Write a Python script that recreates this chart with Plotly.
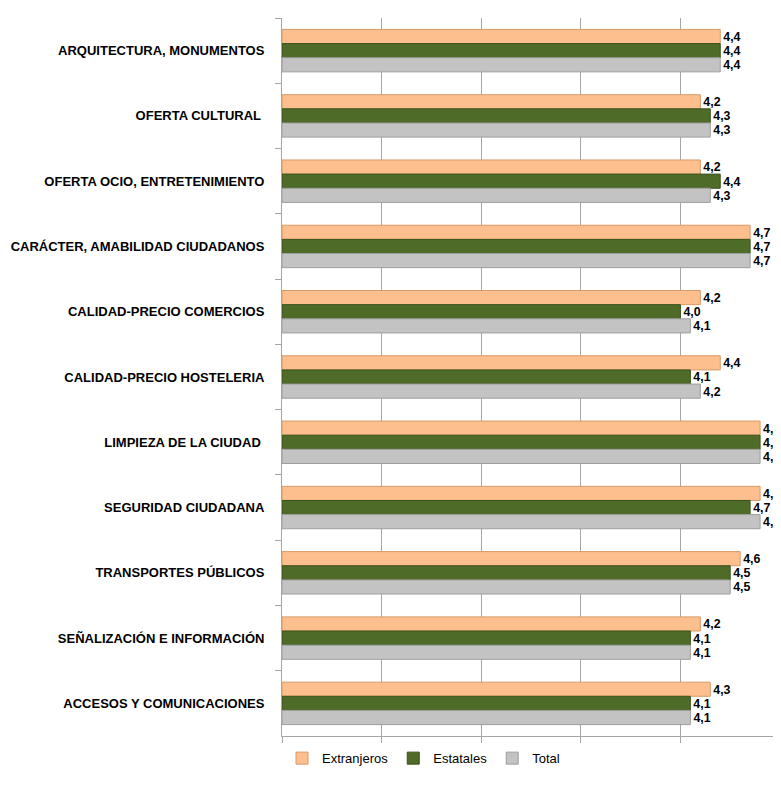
import plotly.graph_objects as go

categories = [
    "ARQUITECTURA, MONUMENTOS",
    "OFERTA CULTURAL ",
    "OFERTA OCIO, ENTRETENIMIENTO",
    "CARÁCTER, AMABILIDAD CIUDADANOS",
    "CALIDAD-PRECIO COMERCIOS",
    "CALIDAD-PRECIO HOSTELERIA",
    "LIMPIEZA DE LA CIUDAD ",
    "SEGURIDAD CIUDADANA",
    "TRANSPORTES PÚBLICOS",
    "SEÑALIZACIÓN E INFORMACIÓN",
    "ACCESOS Y COMUNICACIONES",
]
extranjeros = [4.4, 4.2, 4.2, 4.7, 4.2, 4.4, 4.8, 4.8, 4.6, 4.2, 4.3]
estatales = [4.4, 4.3, 4.4, 4.7, 4.0, 4.1, 4.8, 4.7, 4.5, 4.1, 4.1]
total = [4.4, 4.3, 4.3, 4.7, 4.1, 4.2, 4.8, 4.8, 4.5, 4.1, 4.1]

FONT = "Liberation Sans, Arial, sans-serif"

series = [
    ("Extranjeros", extranjeros, "#FCBF8D", "#D69A68"),
    ("Estatales", estatales, "#4F6B28", "#3A521C"),
    ("Total", total, "#C3C3C3", "#9E9E9E"),
]

fig = go.Figure()
for name, vals, color, edge in series:
    fig.add_trace(go.Bar(
        y=categories,
        x=vals,
        name=name,
        orientation="h",
        marker=dict(color=color, line=dict(color=edge, width=1)),
        texttemplate="<b>%{x:.1f}</b>",
        textposition="outside",
        textfont=dict(family=FONT, size=14, color="black"),
        cliponaxis=False,
    ))

fig.update_layout(
    width=781,
    height=793,
    margin=dict(l=274, r=9, t=10, b=65),
    paper_bgcolor="white",
    plot_bgcolor="white",
    separators=", ",
    barmode="group",
    bargap=0.35,
    bargroupgap=0.0,
    font=dict(family=FONT, size=13, color="black"),
    legend=dict(
        orientation="h", x=0.0, xanchor="left", y=-0.01, yanchor="top",
        font=dict(family=FONT, size=13), traceorder="normal",
    ),
    xaxis=dict(
        range=[0, 5], dtick=1, showticklabels=False,
        showgrid=True, gridcolor="#A6A6A6", gridwidth=1,
        showline=True, linecolor="#A6A6A6", ticks="outside",
        ticklen=6, tickcolor="#A6A6A6", zeroline=False,
    ),
    yaxis=dict(
        autorange="reversed", showline=True, linecolor="#A6A6A6",
        ticks="outside", tickson="boundaries", ticklen=6, tickcolor="#A6A6A6",
        tickfont=dict(family=FONT, size=13, color="black", weight="bold"),
        ticklabelstandoff=14, automargin=False,
    ),
)

fig.write_html("out.html")
